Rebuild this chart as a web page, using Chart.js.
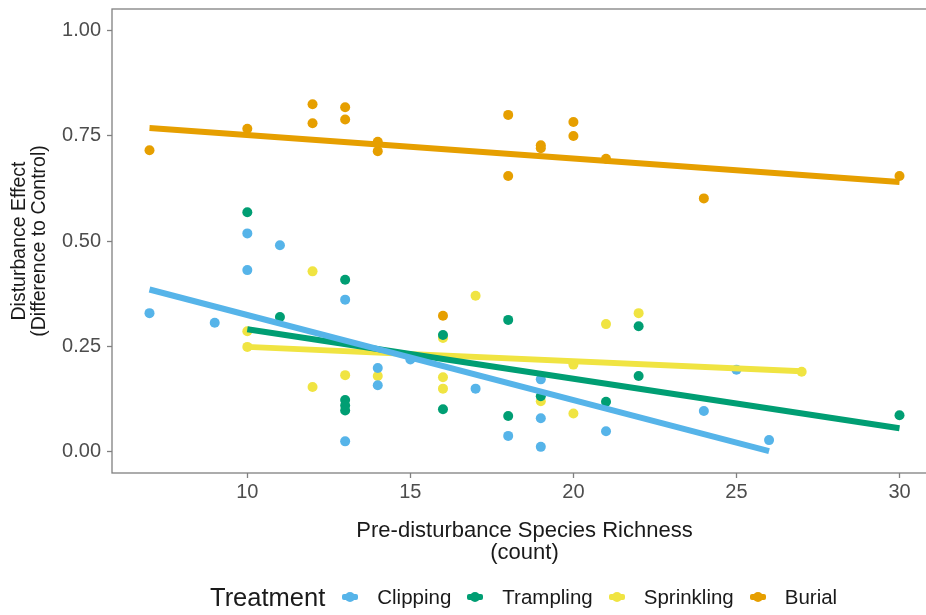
<!DOCTYPE html>
<html>
<head>
<meta charset="utf-8">
<script src="https://cdn.jsdelivr.net/npm/chart.js@4.4.1/dist/chart.umd.min.js"></script>
<style>
  html, body { margin: 0; padding: 0; background: #fff; }
  #wrap { position: relative; width: 926px; height: 615px; overflow: hidden; }
  #box { position: absolute; left: 0; top: 0; width: 940px; height: 615px; }
  #legend {
    position: absolute; left: 210px; top: 582px; height: 30px;
    display: flex; align-items: center;
    font-family: 'Liberation Sans', Arial, sans-serif; color: #1a1a1a;
  }
  #legend .title { font-size: 25.5px; margin-right: 17px; }
  #legend .key { position: relative; width: 16px; height: 6px; border-radius: 2px; margin-right: 19px; }
  #legend .key::after {
    content: ''; position: absolute; left: 3px; top: -2px; width: 10px; height: 10px;
    border-radius: 50%; background: inherit;
  }
  #legend .lab { font-size: 20.5px; margin-right: 16px; }
</style>
</head>
<body>
<div id="wrap">
  <div id="box"><canvas id="plot"></canvas></div>
  <div id="legend"></div>
</div>
<script>
// species richness (x) and disturbance effect (y) per treatment
const clipX = [7, 9, 10, 10, 11, 13, 13, 14, 14, 15, 17, 18, 19, 19, 19, 21, 24, 25, 26];
const clipY = [0.329, 0.306, 0.518, 0.431, 0.490, 0.361, 0.025, 0.199, 0.158, 0.219, 0.150, 0.038, 0.172, 0.080, 0.012, 0.049, 0.097, 0.195, 0.028];

const trampX = [10, 11, 13, 13, 13, 13, 16, 16, 18, 18, 19, 21, 22, 22, 30];
const trampY = [0.568, 0.320, 0.408, 0.123, 0.110, 0.098, 0.277, 0.101, 0.313, 0.085, 0.132, 0.119, 0.298, 0.180, 0.087];

const sprinkX = [10, 10, 12, 12, 13, 14, 16, 16, 16, 17, 19, 20, 20, 21, 22, 27];
const sprinkY = [0.286, 0.249, 0.428, 0.154, 0.182, 0.180, 0.270, 0.177, 0.150, 0.370, 0.120, 0.207, 0.091, 0.303, 0.329, 0.190];

const burialX = [7, 10, 12, 12, 13, 13, 14, 14, 16, 18, 18, 19, 19, 20, 20, 21, 24, 30];
const burialY = [0.715, 0.766, 0.824, 0.779, 0.817, 0.788, 0.735, 0.713, 0.323, 0.799, 0.654, 0.727, 0.720, 0.782, 0.749, 0.695, 0.601, 0.654];

// linear fit end points for each treatment
const clipFitX = [7, 26],    clipFitY = [0.385, 0.002];
const trampFitX = [10, 30],  trampFitY = [0.291, 0.056];
const sprinkFitX = [10, 27], sprinkFitY = [0.249, 0.191];
const burialFitX = [7, 30],  burialFitY = [0.768, 0.640];

const treatments = ['Clipping', 'Trampling', 'Sprinkling', 'Burial'];
const colors = ['#56B4E9', '#009E73', '#F0E442', '#E69F00'];

const xTicks = [10, 15, 20, 25, 30];
const yTicks = [0, 0.25, 0.5, 0.75, 1];

const pts = (xs, ys) => xs.map((x, i) => ({ x: x, y: ys[i] }));

const groups = [
  [clipX, clipY, clipFitX, clipFitY],
  [trampX, trampY, trampFitX, trampFitY],
  [sprinkX, sprinkY, sprinkFitX, sprinkFitY],
  [burialX, burialY, burialFitX, burialFitY]
];

const datasets = [];
groups.forEach((g, i) => {
  datasets.push({
    type: 'scatter',
    label: treatments[i],
    data: pts(g[0], g[1]),
    backgroundColor: colors[i],
    borderWidth: 0,
    pointRadius: 5,
    order: 2
  });
});
groups.forEach((g, i) => {
  datasets.push({
    type: 'line',
    label: treatments[i] + ' fit',
    data: pts(g[2], g[3]),
    borderColor: colors[i],
    borderWidth: 6,
    pointRadius: 0,
    fill: false,
    order: 1
  });
});

// panel border drawn over everything
const panelBorder = {
  id: 'panelBorder',
  afterDatasetsDraw(chart) {
    const { ctx, chartArea: a } = chart;
    ctx.save();
    ctx.strokeStyle = '#808080';
    ctx.lineWidth = 1.3;
    ctx.strokeRect(a.left, a.top, a.right - a.left, a.bottom - a.top);
    ctx.restore();
  }
};

Chart.defaults.font.family = "'Liberation Sans', Arial, sans-serif";

new Chart(document.getElementById('plot'), {
  type: 'scatter',
  data: { datasets: datasets },
  plugins: [panelBorder],
  options: {
    responsive: true,
    maintainAspectRatio: false,
    animation: false,
    layout: { autoPadding: false, padding: { top: 9, right: 3, bottom: 50, left: 0 } },
    plugins: { legend: { display: false }, tooltip: { enabled: false } },
    scales: {
      x: {
        type: 'linear',
        min: 5.85,
        max: 31.15,
        afterBuildTicks: s => { s.ticks = xTicks.map(v => ({ value: v })); },
        afterFit: s => { s.height = 92; s.paddingLeft = 0; s.paddingRight = 0; },
        ticks: { color: '#4d4d4d', font: { size: 20 }, padding: 2, maxRotation: 0 },
        grid: { drawOnChartArea: false, tickLength: 5, tickColor: '#808080', tickWidth: 1.3 },
        border: { display: false },
        title: {
          display: true,
          text: ['Pre-disturbance Species Richness', '(count)'],
          color: '#1a1a1a',
          font: { size: 22, lineHeight: 1.0 },
          padding: { top: 0, bottom: 1 }
        }
      },
      y: {
        type: 'linear',
        min: -0.05,
        max: 1.05,
        afterBuildTicks: s => { s.ticks = yTicks.map(v => ({ value: v })); },
        afterFit: s => { s.width = 112; s.paddingTop = 0; s.paddingBottom = 0; },
        ticks: { color: '#4d4d4d', font: { size: 20 }, padding: 6, callback: v => v.toFixed(2) },
        grid: { drawOnChartArea: false, tickLength: 5, tickColor: '#808080', tickWidth: 1.3 },
        border: { display: false },
        title: {
          display: true,
          text: ['Disturbance Effect', '(Difference to Control)'],
          color: '#1a1a1a',
          font: { size: 19.5, lineHeight: 1.05 },
          padding: { top: 9, bottom: 0 }
        }
      }
    }
  }
});

// legend row under the plot
const legend = document.getElementById('legend');
legend.innerHTML = '<span class="title">Treatment</span>' +
  treatments.map((t, i) =>
    '<span class="key" style="background:' + colors[i] + '"></span><span class="lab">' + t + '</span>'
  ).join('');
</script>
</body>
</html>
